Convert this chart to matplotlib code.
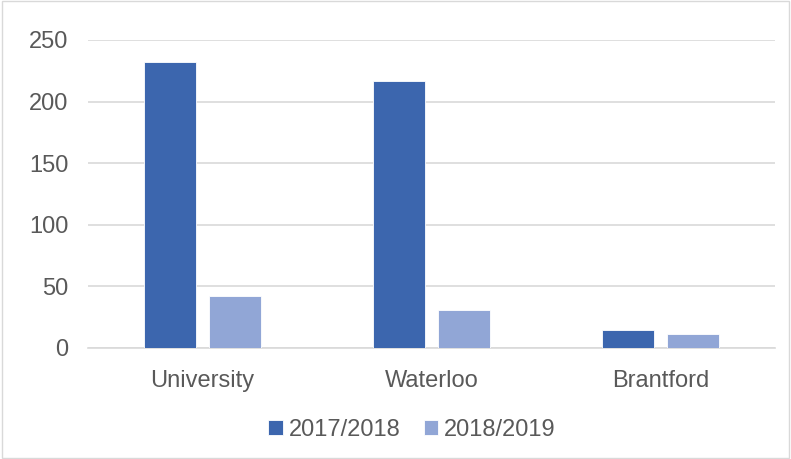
import numpy as np
import matplotlib.pyplot as plt

campuses = ["University", "Waterloo", "Brantford"]
years = ["2017/2018", "2018/2019"]
values_1718 = [232, 217, 15]
values_1819 = [42, 31, 11]
colors = ["#3C66AE", "#91A6D6"]

plt.rcParams['font.family'] = ['Liberation Sans', 'DejaVu Sans']
text_color = "#595959"

fig = plt.figure(figsize=(7.91, 4.59), dpi=100)
ax = fig.add_axes([88 / 791, 1 - 348 / 459, (775 - 88) / 791, (348 - 40) / 459])

x = np.arange(len(campuses))
w = 0.227
gap = 0.06
ax.bar(x - (w + gap) / 2, values_1718, w, color=colors[0], label=years[0],
       edgecolor="white", linewidth=0.6, zorder=3)
ax.bar(x + (w + gap) / 2, values_1819, w, color=colors[1], label=years[1],
       edgecolor="white", linewidth=0.6, zorder=3)

ax.set_xlim(-0.5, 2.5)
ax.set_ylim(0, 250)
ax.set_yticks(range(0, 251, 50))
ax.set_xticks(x)
ax.set_xticklabels(campuses)
ax.grid(axis='y', color="#D9D9D9", linewidth=1.2, zorder=0)
for s in ["top", "right", "left"]:
    ax.spines[s].set_visible(False)
ax.spines["bottom"].set_color("#D9D9D9")
ax.spines["bottom"].set_linewidth(1.2)
ax.tick_params(axis='both', length=0, labelsize=17, colors=text_color)
ax.tick_params(axis='x', pad=16)
ax.tick_params(axis='y', pad=14)

leg = fig.legend(loc='center', bbox_to_anchor=(412 / 791, 1 - 430 / 459), ncol=2,
                 frameon=False, fontsize=17, handlelength=0.6, handleheight=0.6,
                 handletextpad=0.25, columnspacing=1.0)
for t in leg.get_texts():
    t.set_color(text_color)

fig.patches.append(plt.Rectangle((0.002, 0.002), 0.996, 0.996, transform=fig.transFigure,
                                 fill=False, edgecolor="#D9D9D9", linewidth=1))

fig.savefig("out.png", dpi=100)
